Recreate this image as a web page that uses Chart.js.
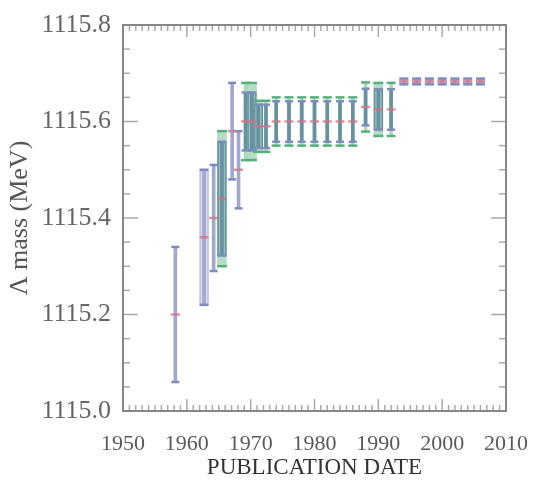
<!DOCTYPE html>
<html lang="en">
<head>
<meta charset="UTF-8" />
<title>Lambda mass vs publication date</title>
<script src="https://cdn.jsdelivr.net/npm/chart.js"></script>
<style>
  html, body { margin: 0; padding: 0; background: #fff; }
  #wrap { width: 540px; height: 485px; }
</style>
</head>
<body>
<div id="wrap"><canvas id="massChart"></canvas></div>
<script>
// one entry per measurement / average, in order of publication
const years = [1958.2, 1962.7, 1964.2, 1965.5, 1967.1, 1968.1, 1969.2, 1970.2, 1971.2, 1972.4,
               1974, 1976, 1978, 1980, 1982, 1984, 1986, 1988, 1990, 1992,
               1994, 1996, 1998, 2000, 2002, 2004, 2006];
const mass = [1115.20, 1115.36, 1115.40, 1115.44, 1115.58, 1115.50, 1115.60, 1115.60, 1115.59, 1115.59,
              1115.60, 1115.60, 1115.60, 1115.60, 1115.60, 1115.60, 1115.60, 1115.63, 1115.625, 1115.625,
              1115.683, 1115.683, 1115.683, 1115.683, 1115.683, 1115.683, 1115.683];
// inner (blue) error and outer (green) error, null where there is none
const errBlue = [0.14, 0.14, 0.11, 0.118, 0.10, 0.08, 0.06, 0.06, 0.045, 0.045,
                 0.042, 0.042, 0.042, 0.042, 0.042, 0.042, 0.042, 0.038, 0.042, 0.042,
                 0.006, 0.006, 0.006, 0.006, 0.006, 0.006, 0.006];
const errGreen = [null, null, null, 0.14, null, null, 0.08, 0.08, 0.053, 0.053,
                  0.05, 0.05, 0.05, 0.05, 0.05, 0.05, 0.05, 0.051, 0.055, 0.055,
                  null, null, null, null, null, null, null];

const xTicks = [1950, 1960, 1970, 1980, 1990, 2000, 2010];
const yTicks = [1115.0, 1115.2, 1115.4, 1115.6, 1115.8];

// entries drawn as wide shaded boxes instead of a thin bar
const boxedYears = [1962.7, 1965.5, 1970.2, 1971.2, 1990, 1994, 1996, 1998, 2000, 2002, 2004, 2006];

const serif = '"Liberation Serif", "DejaVu Serif", serif';
const idx = years.map((_, i) => i);
const hasGreen = i => errGreen[i] !== null;
const isBoxed = i => boxedYears.includes(years[i]);
const range = (i, e) => [mass[i] - e, mass[i] + e];

const blueBars = idx.map(i => ({ x: years[i], y: range(i, errBlue[i]), g: hasGreen(i) }));
const greenBars = idx.filter(i => hasGreen(i) && !isBoxed(i)).map(i => ({ x: years[i], y: range(i, errGreen[i]) }));
const wideGreen = idx.filter(i => hasGreen(i) && isBoxed(i)).map(i => ({ x: years[i], y: range(i, errGreen[i]) }));
const wideBlue = idx.filter(isBoxed).map(i => ({ x: years[i], y: range(i, errBlue[i]), g: hasGreen(i) }));

const blueCaps = idx.flatMap(i => [-1, 1].map(s => ({ x: years[i], y: mass[i] + s * errBlue[i], box: isBoxed(i) })));
const greenCaps = idx.filter(hasGreen).flatMap(i => [-1, 1].map(s => ({ x: years[i], y: mass[i] + s * errGreen[i], box: isBoxed(i) })));
const centers = idx.map(i => ({ x: years[i], y: mass[i], box: isBoxed(i) }));

// frame plus inward minor/major ticks on all four sides
const frameTicks = {
  id: 'frameTicks',
  afterDatasetsDraw(chart) {
    const { ctx, chartArea: a, scales: { x, y } } = chart;
    ctx.save();
    ctx.strokeStyle = 'rgb(170,170,170)';
    ctx.lineWidth = 1.5;
    const seg = (x1, y1, x2, y2) => { ctx.beginPath(); ctx.moveTo(x1, y1); ctx.lineTo(x2, y2); ctx.stroke(); };
    for (let k = 0; k <= 60; k++) {
      const px = x.getPixelForValue(x.min + k);
      const len = k % 10 === 0 ? 12 : 6;
      seg(px, a.bottom, px, a.bottom - len);
      seg(px, a.top, px, a.top + len);
    }
    for (let k = 0; k <= 16; k++) {
      const py = y.getPixelForValue(y.min + k * 0.05);
      const len = k % 4 === 0 ? 15 : 7;
      seg(a.left, py, a.left + len, py);
      seg(a.right, py, a.right - len, py);
    }
    ctx.strokeStyle = 'rgb(135,135,135)';
    ctx.lineWidth = 2;
    ctx.strokeRect(a.left, a.top, a.right - a.left, a.bottom - a.top);
    ctx.restore();
  }
};

new Chart(document.getElementById('massChart'), {
  type: 'bar',
  data: {
    datasets: [
      {
        data: wideGreen, barThickness: 9, order: 10, grouped: false,
        backgroundColor: 'rgba(150,205,172,0.7)'
      },
      {
        data: wideBlue, barThickness: 9, order: 9, grouped: false, borderSkipped: false, borderWidth: 1.5,
        backgroundColor: c => c.raw && c.raw.g ? 'rgba(150,188,190,0.75)' : 'rgba(214,216,234,0.9)',
        borderColor: c => c.raw && c.raw.g ? 'rgb(100,145,158)' : 'rgb(188,192,220)'
      },
      {
        data: greenBars, barThickness: 3, order: 8, grouped: false,
        backgroundColor: 'rgba(140,200,160,0.7)'
      },
      {
        data: blueBars, barThickness: 3, order: 7, grouped: false,
        backgroundColor: c => c.raw && c.raw.g ? 'rgb(102,145,160)' : 'rgb(160,168,205)'
      },
      {
        type: 'scatter', data: blueCaps, order: 3,
        pointStyle: 'line', borderWidth: 2.5, borderColor: 'rgb(128,140,190)',
        radius: c => c.raw && c.raw.box ? 4.5 : 4
      },
      {
        type: 'scatter', data: greenCaps, order: 2,
        pointStyle: 'line', borderWidth: 2.5, borderColor: 'rgb(85,178,122)',
        radius: c => c.raw && c.raw.box ? 5 : 4.5
      },
      {
        type: 'scatter', data: centers, order: 1,
        pointStyle: 'line', borderWidth: 2.5, borderColor: 'rgba(214,112,128,0.75)',
        radius: c => c.raw && c.raw.box ? 4.5 : 4.5
      }
    ]
  },
  options: {
    responsive: true,
    maintainAspectRatio: false,
    animation: false,
    layout: { padding: { top: 25, right: 29, bottom: 0, left: 0 } },
    plugins: { legend: { display: false }, tooltip: { enabled: false } },
    scales: {
      x: {
        type: 'linear', min: 1950, max: 2010, offset: false,
        afterBuildTicks: s => { s.ticks = xTicks.map(v => ({ value: v })); },
        afterFit: s => { s.height = 74; },
        grid: { display: false },
        border: { display: false },
        ticks: { font: { family: serif, size: 22 }, color: '#5a5a5a', padding: 12, maxRotation: 0, autoSkip: false, callback: v => String(v) },
        title: { display: true, text: 'PUBLICATION DATE', font: { family: serif, size: 23 }, color: '#333', padding: { top: 0, bottom: 3 } }
      },
      y: {
        min: 1115.0, max: 1115.8,
        afterBuildTicks: s => { s.ticks = yTicks.map(v => ({ value: v })); },
        afterFit: s => { s.width = 123; },
        grid: { display: false },
        border: { display: false },
        ticks: { font: { family: serif, size: 26 }, color: '#666', padding: 4, callback: v => v.toFixed(1) },
        title: { display: true, text: 'Λ mass (MeV)', font: { family: serif, size: 26 }, color: '#555', padding: { top: 5, bottom: 0 } }
      }
    }
  },
  plugins: [frameTicks]
});
</script>
</body>
</html>
